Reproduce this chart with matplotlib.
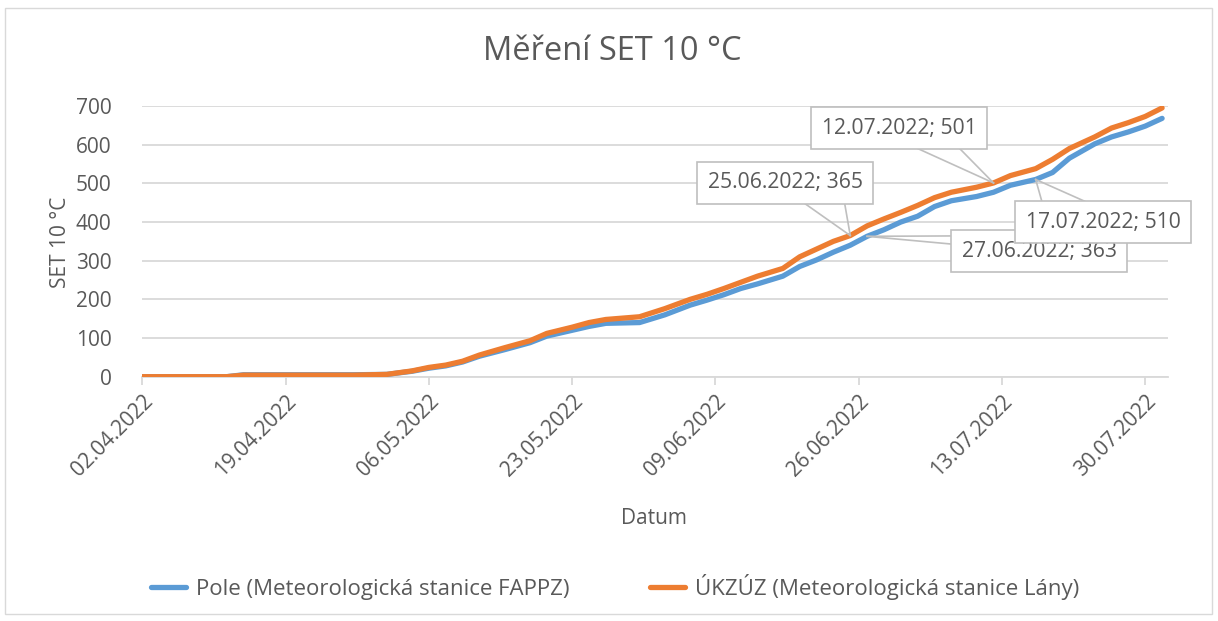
import matplotlib
matplotlib.use("Agg")
import matplotlib.pyplot as plt
import matplotlib.dates as mdates
import pandas as pd
from matplotlib.patches import Rectangle

# ---- data ----
dates = ["02.04.2022", "07.04.2022", "12.04.2022", "14.04.2022", "17.04.2022", "22.04.2022",
         "27.04.2022", "01.05.2022", "04.05.2022", "06.05.2022", "08.05.2022", "10.05.2022",
         "12.05.2022", "15.05.2022", "18.05.2022", "20.05.2022", "23.05.2022", "25.05.2022",
         "27.05.2022", "31.05.2022", "03.06.2022", "06.06.2022", "08.06.2022", "10.06.2022",
         "12.06.2022", "14.06.2022", "17.06.2022", "19.06.2022", "21.06.2022", "23.06.2022",
         "25.06.2022", "27.06.2022", "29.06.2022", "01.07.2022", "03.07.2022", "05.07.2022",
         "07.07.2022", "10.07.2022", "12.07.2022", "14.07.2022", "17.07.2022", "19.07.2022",
         "21.07.2022", "24.07.2022", "26.07.2022", "28.07.2022", "30.07.2022", "01.08.2022"]
pole = [0, 0, 0, 5, 5, 5, 5, 6, 14, 22, 28, 38, 53, 70, 88, 105, 120, 130, 138, 140,
        160, 185, 198, 212, 228, 240, 260, 285, 302, 322, 340, 363, 380, 400, 415, 440,
        455, 466, 477, 495, 510, 528, 565, 602, 620, 633, 648, 668]
ukzuz = [0, 0, 0, 4, 4, 4, 4, 6, 15, 24, 30, 40, 56, 75, 93, 112, 128, 140, 148, 155,
         176, 200, 213, 228, 244, 260, 280, 310, 330, 350, 365, 390, 408, 425, 443, 463,
         477, 490, 501, 520, 538, 562, 590, 620, 643, 657, 673, 695]
series_names = ["Pole (Meteorologická stanice FAPPZ)", "ÚKZÚZ (Meteorologická stanice Lány)"]
tick_dates = ["02.04.2022", "19.04.2022", "06.05.2022", "23.05.2022", "09.06.2022",
              "26.06.2022", "13.07.2022", "30.07.2022"]
ann_dates = ["25.06.2022", "27.06.2022", "12.07.2022", "17.07.2022"]
ann_values = [365, 363, 501, 510]

title = "Měření SET 10 °C"
xlabel = "Datum"
ylabel = "SET 10 °C"

# ---- styling ----
FONT = "Open Sans"
GREY = "#595959"
GRID = "#d9d9d9"
BLUE = "#5B9BD5"
ORANGE = "#ED7D31"

plt.rcParams["font.family"] = [FONT, "DejaVu Sans"]

fig = plt.figure(figsize=(12.18, 6.21), dpi=100)
fig.patches.append(Rectangle((0.004, 0.012), 0.991, 0.975, transform=fig.transFigure,
                             fill=False, edgecolor=GRID, linewidth=1.0))
ax = fig.add_axes([142.3 / 1218, 1 - 376.7 / 621, (1168 - 142.3) / 1218, (376.7 - 106) / 621])

x = pd.to_datetime(dates, format="%d.%m.%Y")
ax.plot(x, pole, color=BLUE, lw=3.8, solid_capstyle="round", label=series_names[0], zorder=3)
ax.plot(x, ukzuz, color=ORANGE, lw=3.8, solid_capstyle="round", label=series_names[1], zorder=4)

x0 = pd.Timestamp("2022-04-02")
ax.set_xlim(mdates.date2num(x0), mdates.date2num(x0) + 121.7)
ax.set_ylim(0, 700)
ax.set_yticks(range(0, 701, 100))
xt = pd.to_datetime(tick_dates, format="%d.%m.%Y")
ax.set_xticks(xt)
ax.set_xticklabels(tick_dates, rotation=45, ha="right", rotation_mode="anchor")

ax.grid(axis="y", color=GRID, lw=1.3)
ax.set_axisbelow(True)
for s in ["top", "right", "left"]:
    ax.spines[s].set_visible(False)
ax.spines["bottom"].set_color(GRID)
ax.spines["bottom"].set_linewidth(1.3)
ax.tick_params(axis="y", length=0, pad=22, labelsize=15, labelcolor=GREY)
ax.tick_params(axis="x", length=6, width=1.3, color=GRID, pad=4, labelsize=15, labelcolor=GREY)

fig.text(0.503, 1 - 52 / 621, title, fontsize=23.5, color=GREY, ha="center", va="center")
ax.set_xlabel(xlabel, fontsize=15, color=GREY, labelpad=14)
ax.set_ylabel(ylabel, fontsize=15, color=GREY, labelpad=12)
ax.xaxis.set_label_coords((654 - 142.3) / (1168 - 142.3), -(508 - 376.7) / (376.7 - 106))
ax.yaxis.set_label_coords(-(142.3 - 71) / (1168 - 142.3), (376.7 - 242) / (376.7 - 106))

# ---- annotations ----
def day(d):
    return mdates.date2num(x0) + d

# (text centre day, value) and wedge base points for each annotation
ann_box = [(76.3, 501), (106.4, 325), (89.8, 643), (114.0, 400)]
ann_base = [[(78.3, 452.5), (83.3, 452.5)],
            [(96.0, 364), (96.0, 343)],
            [(91.6, 594), (96.8, 594)],
            [(106.8, 448), (112.4, 448)]]
zorders = [6, 6, 6, 8]
for d, v, (bx, by), base, z in zip(ann_dates, ann_values, ann_box, ann_base, zorders):
    tip = mdates.date2num(pd.to_datetime(d, format="%d.%m.%Y"))
    for (px, py) in base:
        ax.plot([day(px), tip], [py, v], color="#bfbfbf", lw=1.2, zorder=5, clip_on=False)
    ax.text(day(bx), by, f"{d}; {v}", fontsize=15.2, color=GREY, ha="center", va="center",
            zorder=z, clip_on=False,
            bbox=dict(boxstyle="square,pad=0.5", facecolor="white", edgecolor="#bfbfbf", lw=1.2))

leg = fig.legend(loc="center", bbox_to_anchor=(0.505, 1 - 587 / 621), ncol=2, frameon=False,
                 fontsize=16, handlelength=1.6, columnspacing=3.6, handletextpad=0.45)
for t in leg.get_texts():
    t.set_color(GREY)

fig.savefig("out.png", dpi=100)
